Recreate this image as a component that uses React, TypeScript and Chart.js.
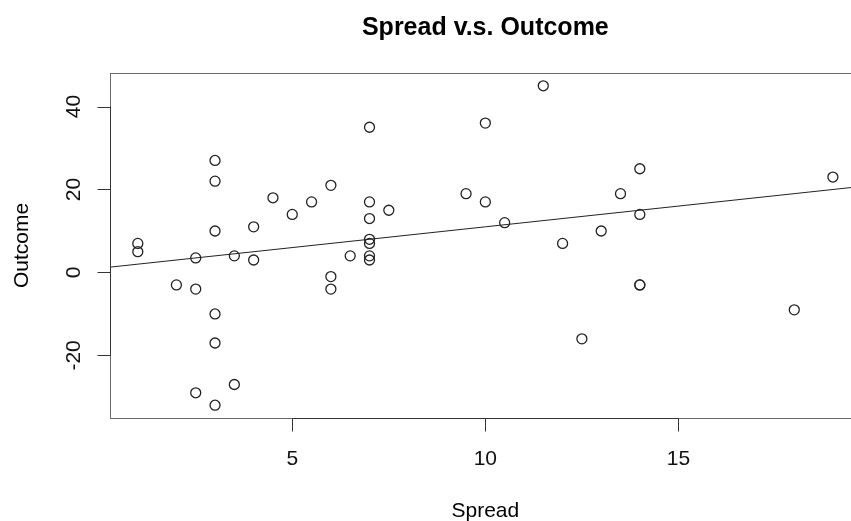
import React, { useEffect, useRef } from "react";
import { Chart, registerables } from "chart.js";

Chart.register(...registerables);

// Data
const spreadValues = [
  1, 1, 2, 2.5, 2.5, 2.5, 3, 3, 3, 3, 3, 3, 3.5, 3.5, 4, 4, 4.5, 5, 5.5, 6, 6, 6, 6.5,
  7, 7, 7, 7, 7, 7, 7, 7.5, 9.5, 10, 10, 10.5, 11.5, 12, 12.5, 13, 13.5, 14, 14, 14, 14, 18, 19,
];
const outcomeValues = [
  7, 5, -3, 3.5, -4, -29, 27, 22, 10, -10, -17, -32, 4, -27, 3, 11, 18, 14, 17, 21, -1, -4, 4,
  35, 17, 13, 8, 7, 4, 3, 15, 19, 36, 17, 12, 45, 7, -16, 10, 19, 25, 14, -3, -3, -9, 23,
];

// Fitted line (abline)
const fitIntercept = 1.0;
const fitSlope = 1.0;

// Axis ranges and ticks
const xRange = [0.28, 19.72];
const yRange = [-35.08, 48.08];
const xTicks = [5, 10, 15];
const yTicks = [-20, 0, 20, 40];

const titleText = "Spread v.s. Outcome";
const xTitle = "Spread";
const yTitle = "Outcome";

const FONT = '"Liberation Sans", Arial, Helvetica, sans-serif';

const rAxesPlugin = {
  id: "rAxes",
  afterDraw(chart: any) {
    const { ctx, chartArea, scales } = chart;
    const xs = scales.x;
    const ys = scales.y;
    ctx.save();
    // plot box
    ctx.strokeStyle = "#6a6a6a";
    ctx.lineWidth = 1;
    ctx.strokeRect(
      Math.round(chartArea.left) + 0.5,
      Math.round(chartArea.top) + 0.5,
      chartArea.right - chartArea.left,
      chartArea.bottom - chartArea.top
    );
    ctx.strokeStyle = "#333";
    ctx.fillStyle = "#111";
    // x axis
    const yb = Math.round(chartArea.bottom) + 0.5;
    ctx.beginPath();
    ctx.moveTo(xs.getPixelForValue(xTicks[0]), yb);
    ctx.lineTo(xs.getPixelForValue(xTicks[xTicks.length - 1]), yb);
    xTicks.forEach((t) => {
      const px = Math.round(xs.getPixelForValue(t)) + 0.5;
      ctx.moveTo(px, yb);
      ctx.lineTo(px, yb + 13);
    });
    ctx.stroke();
    ctx.font = `21px ${FONT}`;
    ctx.textAlign = "center";
    ctx.textBaseline = "alphabetic";
    xTicks.forEach((t) => {
      ctx.fillText(String(t), xs.getPixelForValue(t), chartArea.bottom + 47);
    });
    // y axis
    const xl = Math.round(chartArea.left) + 0.5;
    ctx.beginPath();
    ctx.moveTo(xl, ys.getPixelForValue(yTicks[0]));
    ctx.lineTo(xl, ys.getPixelForValue(yTicks[yTicks.length - 1]));
    yTicks.forEach((t) => {
      const py = Math.round(ys.getPixelForValue(t)) + 0.5;
      ctx.moveTo(xl, py);
      ctx.lineTo(xl - 13, py);
    });
    ctx.stroke();
    yTicks.forEach((t) => {
      ctx.save();
      ctx.translate(chartArea.left - 30, ys.getPixelForValue(t));
      ctx.rotate(-Math.PI / 2);
      ctx.fillText(String(t), 0, 0);
      ctx.restore();
    });
    // titles
    const cx = (chartArea.left + chartArea.right) / 2;
    ctx.fillStyle = "#000";
    ctx.font = `bold 25px ${FONT}`;
    ctx.fillText(titleText, cx, 35);
    ctx.font = `21px ${FONT}`;
    ctx.fillText(xTitle, cx, 517);
    ctx.save();
    ctx.translate(28, (chartArea.top + chartArea.bottom) / 2);
    ctx.rotate(-Math.PI / 2);
    ctx.fillText(yTitle, 0, 0);
    ctx.restore();
    ctx.restore();
  },
};

export default function App() {
  const ref = useRef<HTMLCanvasElement | null>(null);
  useEffect(() => {
    if (!ref.current) return;
    const points = spreadValues.map((x, i) => ({ x, y: outcomeValues[i] }));
    const fit = [
      { x: xRange[0], y: fitIntercept + fitSlope * xRange[0] },
      { x: xRange[1], y: fitIntercept + fitSlope * xRange[1] },
    ];
    const chart = new Chart(ref.current, {
      type: "scatter",
      data: {
        datasets: [
          {
            type: "line",
            data: fit,
            borderColor: "#222",
            borderWidth: 1,
            pointRadius: 0,
            fill: false,
          } as any,
          {
            data: points,
            pointRadius: 5,
            pointBorderWidth: 1.3,
            pointBorderColor: "#222",
            pointBackgroundColor: "rgba(0,0,0,0)",
            pointStyle: "circle",
          },
        ],
      },
      options: {
        responsive: false,
        animation: false,
        devicePixelRatio: 1,
        layout: { padding: { left: 110, top: 73, right: 19.3, bottom: 103 } },
        plugins: { legend: { display: false }, tooltip: { enabled: false }, title: { display: false } },
        scales: {
          x: { type: "linear", min: xRange[0], max: xRange[1], display: false },
          y: { type: "linear", min: yRange[0], max: yRange[1], display: false },
        },
      },
      plugins: [rAxesPlugin],
    });
    return () => chart.destroy();
  }, []);
  return (
    <div
      style={{
        position: "absolute",
        left: 0,
        top: 0,
        width: 851,
        height: 521,
        overflow: "hidden",
        background: "#fff",
      }}
    >
      <canvas ref={ref} width={880} height={521} style={{ display: "block" }} />
    </div>
  );
}
